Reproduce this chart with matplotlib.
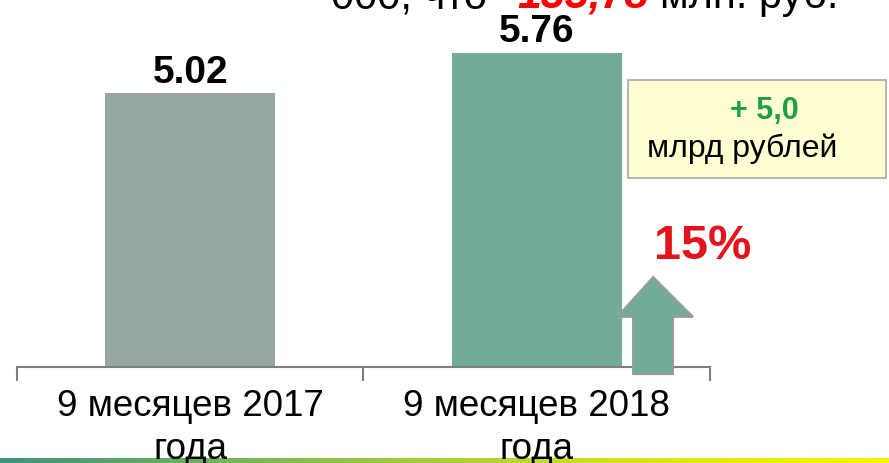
import numpy as np
import matplotlib.pyplot as plt
from matplotlib.patches import Polygon, Rectangle
from matplotlib.colors import LinearSegmentedColormap

plt.rcParams['font.family'] = ['Liberation Sans', 'DejaVu Sans']

# data
categories = ['9 месяцев 2017\nгода', '9 месяцев 2018\nгода']
values = [5.02, 5.76]
bar_colors = ['#95A79F', '#70AC98']
growth_label = '15%'
delta_label = '+ 5,0'
delta_unit = 'млрд рублей'

fig = plt.figure(figsize=(8.89, 4.63), dpi=100)
W, H = 889, 463

# main axes: x 17..710 px, baseline at y=367 px
ax = fig.add_axes([17 / W, 1 - 367 / H, 693 / W, 367 / H])
ax.set_zorder(2)
ax.patch.set_alpha(0)

x = np.arange(len(values))
ax.bar(x, values, width=0.49, color=bar_colors, zorder=2)
ax.set_xlim(-0.5, 1.5)
ax.set_ylim(0, 6.73)

for xi, v in zip(x, values):
    ax.text(xi, v + 0.05, f'{v:.2f}', ha='center', va='bottom',
            fontsize=28, fontweight='bold', color='black', clip_on=False)

for s in ['left', 'top', 'right']:
    ax.spines[s].set_visible(False)
ax.spines['bottom'].set_color('#7F7F7F')
ax.spines['bottom'].set_linewidth(1.5)
ax.set_yticks([])
ax.set_xticks(x)
ax.set_xticklabels(categories, fontsize=26.5, linespacing=1.3)
ax.tick_params(axis='x', which='major', length=0, pad=16)
ax.set_xticks([-0.5, 0.5, 1.5], minor=True)
ax.tick_params(axis='x', which='minor', length=10, width=1.5, color='#7F7F7F')

# growth arrow next to second bar
bx = x[1]
ax.add_patch(Polygon([(bx + 0.278, -0.13), (bx + 0.393, -0.13), (bx + 0.393, 0.92),
                      (bx + 0.451, 0.92), (bx + 0.336, 1.65), (bx + 0.232, 0.92),
                      (bx + 0.278, 0.92)], closed=True, facecolor=bar_colors[1],
                     edgecolor='#9A9A9A', linewidth=1.5, clip_on=False, zorder=3))

ax.text(bx + 0.48, 2.21, growth_label, ha='center', va='center', fontsize=35,
        fontweight='bold', color='#E3141B', clip_on=False)

# yellow note box
fig.patches.append(Rectangle((628 / W, 1 - 178 / H), 258 / W, 98 / H,
                             transform=fig.transFigure, facecolor='#FFFFD2',
                             edgecolor='#A8A8A8', linewidth=1.2, zorder=3))
fig.text(764 / W, 1 - 111 / H, delta_label, ha='center', va='center',
         fontsize=22, fontweight='bold', color='#1E9E4A', zorder=4)
fig.text(742 / W, 1 - 149 / H, delta_unit, ha='center', va='center',
         fontsize=23, color='black', zorder=4)

# clipped header line from the slide
fig.text(487 / W, 1 - 8 / H, '000, что', ha='right', va='baseline',
         fontsize=30, color='black')
fig.text(517 / W, 1 - 8 / H, '135,78', ha='left', va='baseline',
         fontsize=31, fontweight='bold', fontstyle='italic', color='#FF0000')
fig.text(660 / W, 1 - 8 / H, 'млн. руб.', ha='left', va='baseline',
         fontsize=30, color='black')

# gradient strip at the bottom
strip = fig.add_axes([0, 0, 1, 5 / H])
strip.set_zorder(0)
cmap = LinearSegmentedColormap.from_list(
    'strip', [(0, '#3C947E'), (0.35, '#8CC04A'), (0.7, '#D4E21C'), (1, '#F8F500')])
strip.imshow(np.linspace(0, 1, 256)[None, :], aspect='auto', cmap=cmap)
strip.axis('off')

fig.savefig('out.png', dpi=100)
